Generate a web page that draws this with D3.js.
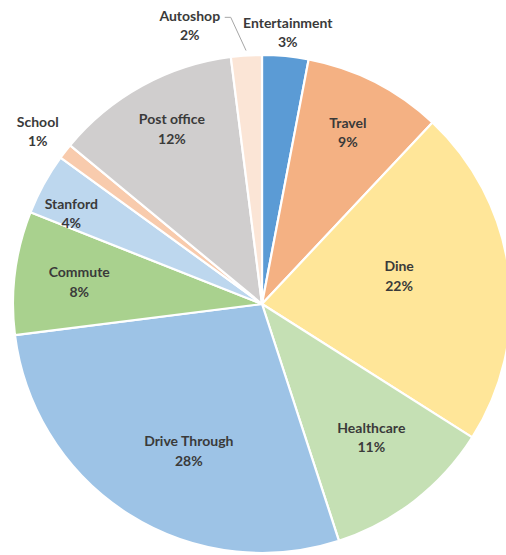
<!DOCTYPE html>
<html>
<head>
<meta charset="utf-8">
<script src="https://cdn.jsdelivr.net/npm/d3@7"></script>
<style>
  html, body { margin: 0; padding: 0; background: #fff; }
  svg { display: block; }
</style>
</head>
<body>
<svg id="chart" width="506" height="555"></svg>
<script>
// Spending categories, clockwise from 12 o'clock
const categories = ["Entertainment", "Travel", "Dine", "Healthcare", "Drive Through",
                    "Commute", "Stanford", "School", "Post office", "Autoshop"];
const shares = [3, 9, 22, 11, 28, 8, 4, 1, 12, 2];
const colors = ["#5B9BD5", "#F4B183", "#FFE699", "#C5E0B4", "#9DC3E6",
                "#A9D18E", "#BDD7EE", "#F8CBAD", "#D0CECE", "#FBE5D6"];

const width = 506, height = 555;
const cx = 262, cy = 304, radius = 249;

// label placement: [distance from centre as a fraction of the radius, angle nudge in radians]
const labelPlace = {
  "Entertainment": [1.1, 0], "Travel": [0.775, -0.01], "Dine": [0.563, -0.084],
  "Healthcare": [0.69, -0.03], "Drive Through": [0.655, -0.1], "Commute": [0.74, 0],
  "Stanford": [0.85, -0.054], "School": [1.14, 0], "Post office": [0.795, 0.03],
  "Autoshop": [1.16, -0.19]
};

const data = categories.map((c, i) => ({ name: c, value: shares[i], color: colors[i] }));

const svg = d3.select("#chart");
const g = svg.append("g").attr("transform", `translate(${cx},${cy})`);

const pie = d3.pie().value(d => d.value).sort(null);
const arcs = pie(data);

const arc = d3.arc().innerRadius(0).outerRadius(radius);

g.selectAll("path.slice")
  .data(arcs)
  .join("path")
  .attr("class", "slice")
  .attr("d", arc)
  .attr("fill", d => d.data.color)
  .attr("stroke", "#fff")
  .attr("stroke-width", 2.2)
  .attr("stroke-linejoin", "round");

const fmt = d => d3.format(".0%")(d.data.value / 100);
const mid = d => (d.startAngle + d.endAngle) / 2;

function addLabel(x, y, d) {
  const t = g.append("text")
    .attr("x", x).attr("y", y)
    .attr("text-anchor", "middle")
    .attr("font-family", "Lato, 'Open Sans', sans-serif")
    .attr("font-weight", "bold")
    .attr("font-size", 14)
    .attr("fill", "#3a3a3a");
  t.append("tspan").attr("x", x).attr("dy", "-0.25em").text(d.data.name);
  t.append("tspan").attr("x", x).attr("dy", "1.38em").text(fmt(d));
  return t;
}

arcs.forEach(d => {
  const a = mid(d);
  const [f, nudge] = labelPlace[d.data.name];
  const r = radius * f, la = a + nudge;
  const lx = r * Math.sin(la), ly = -r * Math.cos(la);
  addLabel(lx, ly, d);
  if (d.data.name === "Autoshop") {
    // leader line from the label to its thin slice
    const ex = (radius + 5) * Math.sin(a), ey = -(radius + 5) * Math.cos(a);
    const sx = lx + 35, sy = ly - 7;
    g.append("polyline")
      .attr("points", [[sx, sy], [sx + 6, sy], [ex, ey]].map(p => p.join(",")).join(" "))
      .attr("fill", "none")
      .attr("stroke", "#a6a6a6")
      .attr("stroke-width", 1);
  }
});
</script>
</body>
</html>
